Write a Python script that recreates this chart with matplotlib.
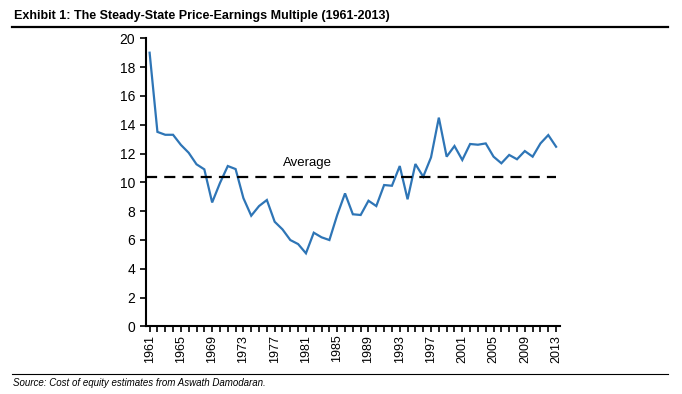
import matplotlib.pyplot as plt
from matplotlib.lines import Line2D

plt.rcParams['font.family'] = ['Liberation Sans', 'DejaVu Sans']

# Données
years = list(range(1961, 2014))
pe_multiple = [19.0, 13.5, 13.3, 13.3, 12.6, 12.05, 11.25, 10.9, 8.6, 9.95,
               11.13, 10.92, 8.9, 7.68, 8.35, 8.77, 7.26, 6.73, 5.99, 5.71,
               5.07, 6.5, 6.18, 5.99, 7.73, 9.23, 7.78, 7.73, 8.72, 8.35,
               9.81, 9.76, 11.13, 8.82, 11.27, 10.39, 11.73, 14.49, 11.78, 12.52,
               11.55, 12.66, 12.61, 12.7, 11.78, 11.32, 11.9, 11.6, 12.17, 11.78,
               12.7, 13.28, 12.47]
average = 10.4
tick_years = list(range(1961, 2014, 4))

fig = plt.figure(figsize=(6.82, 3.94), dpi=100)
ax = fig.add_axes([145.7 / 682, 67.7 / 394, (560 - 145.7) / 682, 288 / 394])

ax.plot(years, pe_multiple, color='#2E75B6', linewidth=1.6, solid_joinstyle='miter')
ax.plot([1960.5, 2013], [average, average], color='black', linewidth=1.6,
        linestyle=(0, (5, 3.2)))
ax.text(1981.2, 11.35, "Average", ha='center', va='center', fontsize=9.5)

ax.set_xlim(1960.5, 2013.5)
ax.set_ylim(0, 20)
ax.set_yticks(range(0, 21, 2))
ax.set_xticks(years, minor=True)
ax.set_xticks(tick_years)
ax.set_xticklabels([str(y) for y in tick_years], rotation=90)
ax.tick_params(axis='both', which='both', direction='out', length=4, width=1.2,
               labelsize=9, color='black')
ax.tick_params(axis='y', labelsize=10)
ax.tick_params(axis='x', which='major', pad=2)
for side in ['top', 'right']:
    ax.spines[side].set_visible(False)
for side in ['left', 'bottom']:
    ax.spines[side].set_linewidth(1.5)

# Titre et source
fig.text(14 / 682, 1 - 15.5 / 394, "Exhibit 1: The Steady-State Price-Earnings Multiple (1961-2013)",
         fontsize=9, fontweight='bold', ha='left', va='center')
fig.add_artist(Line2D([12 / 682, 668 / 682], [1 - 26.5 / 394] * 2, color='black', linewidth=1.6))
fig.add_artist(Line2D([12 / 682, 668 / 682], [1 - 374.3 / 394] * 2, color='black', linewidth=0.8))
fig.text(13 / 682, 1 - 383 / 394, "Source: Cost of equity estimates from Aswath Damodaran.",
         fontsize=7, style='italic', ha='left', va='center')

fig.savefig('out.png', dpi=100)
